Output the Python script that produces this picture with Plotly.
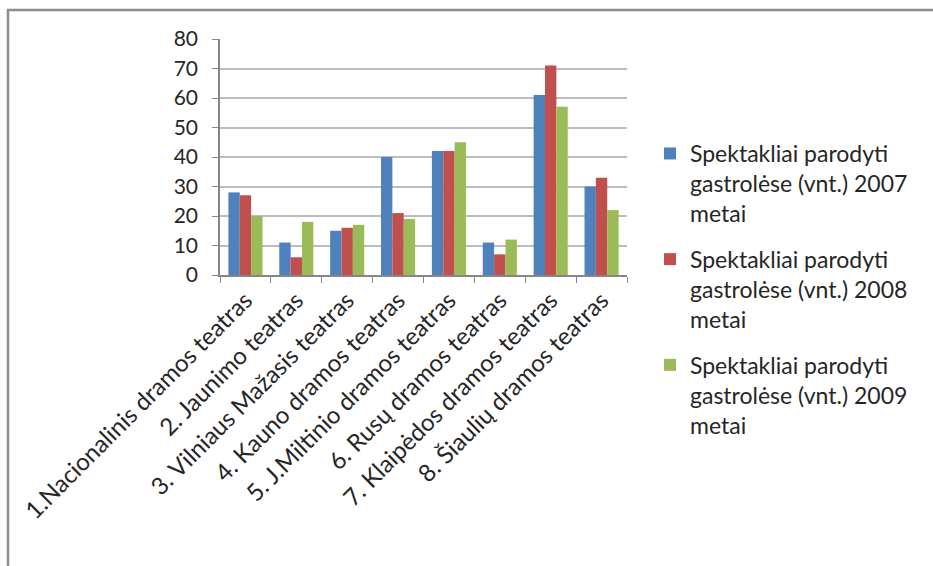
import plotly.graph_objects as go

categories = [
    "1.Nacionalinis dramos teatras",
    "2. Jaunimo teatras",
    "3. Vilniaus Mažasis teatras",
    "4. Kauno dramos teatras",
    "5. J.Miltinio dramos teatras",
    "6. Rusų dramos teatras",
    "7. Klaipėdos dramos teatras",
    "8. Šiaulių dramos teatras",
]
series_names = [
    "Spektakliai parodyti<br>gastrolėse (vnt.) 2007<br>metai",
    "Spektakliai parodyti<br>gastrolėse (vnt.) 2008<br>metai",
    "Spektakliai parodyti<br>gastrolėse (vnt.) 2009<br>metai",
]
values_2007 = [28, 11, 15, 40, 42, 11, 61, 30]
values_2008 = [27, 6, 16, 21, 42, 7, 71, 33]
values_2009 = [20, 18, 17, 19, 45, 12, 57, 22]
y_ticks = [0, 10, 20, 30, 40, 50, 60, 70, 80]

colors = ["#4F81BD", "#C0504D", "#9BBB59"]
FONT = "Lato, 'Open Sans', sans-serif"
TEXT = "#262626"

W, H = 933, 566
L, R, T, B = 220, 306, 39, 291
pw, ph = W - L - R, H - T - B

def px_x(x):
    return (x - L) / pw

def px_y(y):
    return (H - B - y) / ph

fig = go.Figure()
for i, vals in enumerate([values_2007, values_2008, values_2009]):
    fig.add_trace(go.Bar(
        x=categories, y=vals, name=series_names[i],
        marker=dict(color=colors[i], line=dict(width=0)),
        legendgroup=f"g{i}",
    ))

fig.update_layout(
    width=W, height=H,
    margin=dict(l=L, r=R, t=T, b=B, autoexpand=False),
    paper_bgcolor="white", plot_bgcolor="white",
    barmode="group", bargap=0.33, bargroupgap=0,
    font=dict(family=FONT, color=TEXT, size=20),
    showlegend=True,
    legend=dict(
        x=px_x(650), y=px_y(132), xanchor="left", yanchor="top",
        font=dict(family=FONT, size=23, color=TEXT),
        valign="top", traceorder="grouped", tracegroupgap=13,
        bgcolor="rgba(0,0,0,0)", maxheight=520,
    ),
    xaxis=dict(
        type="category", tickangle=-45, tickson="boundaries",
        ticks="outside", ticklen=6, tickcolor="#868686",
        showline=True, linecolor="#868686", linewidth=1.5,
        showgrid=False, tickfont=dict(size=24, family=FONT, color=TEXT),
    ),
    yaxis=dict(
        range=[0, 80], tickvals=y_ticks, ticks="outside", ticklen=6,
        tickcolor="#868686", showline=True, linecolor="#868686", linewidth=1.5,
        showgrid=True, gridcolor="#BDBDBD", gridwidth=1.5,
        zeroline=False, ticklabelstandoff=10,
        tickfont=dict(size=21, family=FONT, color=TEXT),
    ),
    shapes=[
        dict(type="line", xref="paper", yref="paper",
             x0=px_x(7), x1=px_x(940), y0=px_y(10), y1=px_y(10),
             line=dict(color="#8C8C8C", width=2.5)),
        dict(type="line", xref="paper", yref="paper",
             x0=px_x(8), x1=px_x(8), y0=px_y(9), y1=px_y(570),
             line=dict(color="#8C8C8C", width=2.5)),
    ],
)

fig.write_html(
    "out.html",
    config={"displayModeBar": False},
    post_script="document.body.style.margin='0';document.body.style.overflow='hidden';",
)
